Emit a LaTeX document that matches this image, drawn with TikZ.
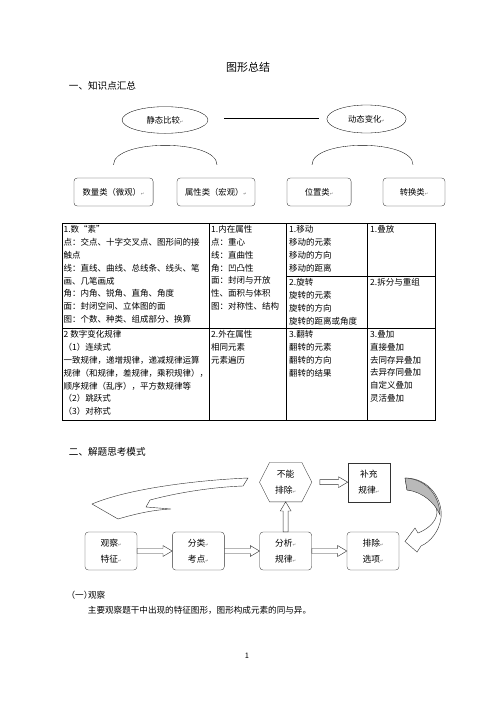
\documentclass[tikz,border=0pt]{standalone}
\usepackage{fontspec}
\setmainfont{Noto Sans CJK SC}
\newfontfamily\symfont{DejaVu Sans}
\usetikzlibrary{positioning,shapes.geometric,calc}

% small paragraph mark
\newcommand\pmk{{\symfont\fontsize{5}{5}\selectfont\color{black!55}↵}}
% open block arrows, horizontal and upward
\newcommand\harrow[3][0]{%
  \draw[blk] let \p1=(#2), \p2=(#3) in
    (\x1+#1pt,\y1+3pt) -- (\x2-11pt,\y1+3pt) -- (\x2-11pt,\y1+6.5pt) -- (\x2,\y1)
    -- (\x2-11pt,\y1-6.5pt) -- (\x2-11pt,\y1-3pt) -- (\x1+#1pt,\y1-3pt) -- cycle;}
\newcommand\varrow[2]{%
  \draw[blk] let \p1=(#1), \p2=(#2) in
    (\x1-3pt,\y1) -- (\x1-3pt,\y2-11pt) -- (\x1-6.5pt,\y2-11pt) -- (\x1,\y2)
    -- (\x1+6.5pt,\y2-11pt) -- (\x1+3pt,\y2-11pt) -- (\x1+3pt,\y1) -- cycle;}

\begin{document}
\begin{tikzpicture}[
  x=1.2pt, y=-1.2pt,
  node distance=36pt and 42pt,
  oval/.style={draw,ellipse,inner sep=0pt,minimum height=32pt,font=\fontsize{10}{12}\selectfont},
  cat/.style={draw=black!85,rounded corners=4pt,inner sep=0pt,minimum height=33.6pt,font=\fontsize{10}{12}\selectfont},
  cell/.style={anchor=north west,align=left,inner sep=0pt,font=\fontsize{10.2}{15.5}\selectfont},
  tbl/.style={line width=0.8pt},
  stepbox/.style={draw=black!80,rounded corners=4pt,minimum width=62.4pt,minimum height=45.6pt,align=center,inner sep=0pt,font=\fontsize{10.5}{19}\selectfont},
  hexbox/.style={minimum width=62.4pt,minimum height=46.8pt,align=center,inner sep=0pt,font=\fontsize{10.5}{19}\selectfont},
  rulebox/.style={draw=black!80,minimum width=50.4pt,minimum height=46.8pt,align=center,inner sep=0pt,font=\fontsize{10.5}{19}\selectfont},
  blk/.style={draw=black!80,fill=white,line width=0.5pt},
  curv/.style={draw=black!80,fill=white,line width=0.5pt}
]
\useasboundingbox (0,0) rectangle (496,702);

% headings
\node[font=\fontsize{13.2}{14}\selectfont] (title) at (248,67) {图形总结};
\node[anchor=west,font=\fontsize{11.5}{12}\selectfont] (h1) at (66,86) {一、知识点汇总};

% part one: overview
\node[oval,minimum width=103pt] (jt) at (165,120) {静态比较\pmk};
\node[oval,minimum width=95pt,minimum height=33.6pt] (dt) at (366.5,119) {动态变化\pmk};
\draw ($(jt.east)+(16,-2)$) -- ($(dt.west)+(-8,-1)$);

\node[cat,minimum width=95pt] (sl) at (113.5,192) {数量类（微观）\pmk};
\node[cat,minimum width=93.6pt] (sx) at (216,192) {属性类（宏观）\pmk};
\node[cat,minimum width=77pt] (wz) at (319,192) {位置类\pmk};
\node[cat,minimum width=74.4pt] (zh) at (414,192) {转换类\pmk};

\coordinate (a1) at ($(sl.north)+(0,-13)$);
\coordinate (a2) at ($(sx.north)+(1,-13)$);
\coordinate (a3) at ($(wz.north)+(-7,-13)$);
\coordinate (a4) at ($(zh.north)+(-1,-13)$);
\draw (a1) .. controls +(0,-26) and +(0,-26) .. (a2);
\draw (a3) .. controls +(0,-26) and +(0,-26) .. (a4);

% table
\draw[tbl] (62,223) rectangle (435,420);
\draw[tbl] (62,328) -- (435,328);
\foreach \x in {209,286,367} \draw[tbl] (\x,223) -- (\x,420);
\draw[tbl] (286,276) -- (435,276);

\node[cell] (c11) at (63.5,225) {1.数“素”\\点：交点、十字交叉点、图形间的接\\触点\\线：直线、曲线、总线条、线头、笔\\画、几笔画成\\角：内角、锐角、直角、角度\\面：封闭空间、立体图的面\\图：个数、种类、组成部分、换算};
\node[cell] (c12) at (211,225) {1.内在属性\\点：重心\\线：直曲性\\角：凹凸性\\面：封闭与开放\\性、面积与体积\\图：对称性、结构};
\node[cell] (c13) at (289,225) {1.移动\\移动的元素\\移动的方向\\移动的距离};
\node[cell] (c23) at (289,278) {2.旋转\\旋转的元素\\旋转的方向\\旋转的距离或角度};
\node[cell] (c14) at (370,225) {1.叠放};
\node[cell] (c24) at (370,278) {2.拆分与重组};
\node[cell] (c31) at (63.5,330) {2 数字变化规律\\（1）连续式\\一致规律，递增规律，递减规律运算\\规律（和规律，差规律，乘积规律），\\顺序规律（乱序），平方数规律等\\（2）跳跃式\\（3）对称式};
\node[cell] (c32) at (211,330) {2.外在属性\\相同元素\\元素遍历};
\node[cell] (c33) at (289,330) {3.翻转\\翻转的元素\\翻转的方向\\翻转的结果};
\node[cell] (c34) at (370,330) {3.叠加\\直接叠加\\去同存异叠加\\去异存同叠加\\自定义叠加\\灵活叠加};

% part two: solving
\node[anchor=west,font=\fontsize{11.5}{12}\selectfont] (h2) at (66,452) {二、解题思考模式};

\node[stepbox] (gc) at (111,551) {观察\pmk\\特征\pmk};
\node[stepbox,right=of gc] (fl) {分类\pmk\\考点\pmk};
\node[stepbox,right=of fl] (fx) {分析\pmk\\规律\pmk};
\node[stepbox,right=of fx] (pc) {排除\pmk\\选项\pmk};
\node[hexbox,above=of fx] (bn) {不能\\排除\pmk};
\node[rulebox,right=43pt of bn] (bc) {补充\\规律\pmk};
\draw[draw=black!80] (bn.west) -- ([xshift=12pt]bn.north west) -- ([xshift=-12pt]bn.north east)
  -- (bn.east) -- ([xshift=-12pt]bn.south east) -- ([xshift=12pt]bn.south west) -- cycle;

\foreach \a/\b in {gc/fl,fl/fx,fx/pc} {\harrow{\a.east}{\b.west}}
\harrow[9.6]{bn.east}{bc.west}
\varrow{fx.north}{bn.south}

% curved arrow back to the start
\draw[curv] (248,478) .. controls (200,480) and (130,488) .. (92,504) -- (118,519)
  .. controls (135,514) and (152,510) .. (171,509) -- (146,507) -- (150,500)
  .. controls (180,492) and (215,487) .. (243,486) -- cycle;
% curved arrow down to the options
\draw[curv] (405,478) .. controls (430,478) and (443,500) .. (441,518)
  .. controls (439,532) and (430,542) .. (421,546) -- (417,552) -- (405,541.5) -- (415,528) -- (418,533)
  .. controls (428,529) and (436,522) .. (437,513) .. controls (437,500) and (425,490) .. (407,490) -- cycle;
\filldraw[draw=black!80,fill=gray!55,line width=0.5pt] (405,478) .. controls (428,479) and (440,498) .. (440,515)
  .. controls (435,503) and (423,492) .. (407,490) -- cycle;

% notes
\node[anchor=west,font=\fontsize{10.3}{12}\selectfont\addfontfeature{RawFeature=+halt}] (s1) at (68,595) {（一）观察};
\node[anchor=west,font=\fontsize{10.3}{12}\selectfont] (s1t) at (85,610) {主要观察题干中出现的特征图形，图形构成元素的同与异。};
\node[font=\fontsize{9}{10}\selectfont] (pg) at (247,656) {1};
\end{tikzpicture}
\end{document}
